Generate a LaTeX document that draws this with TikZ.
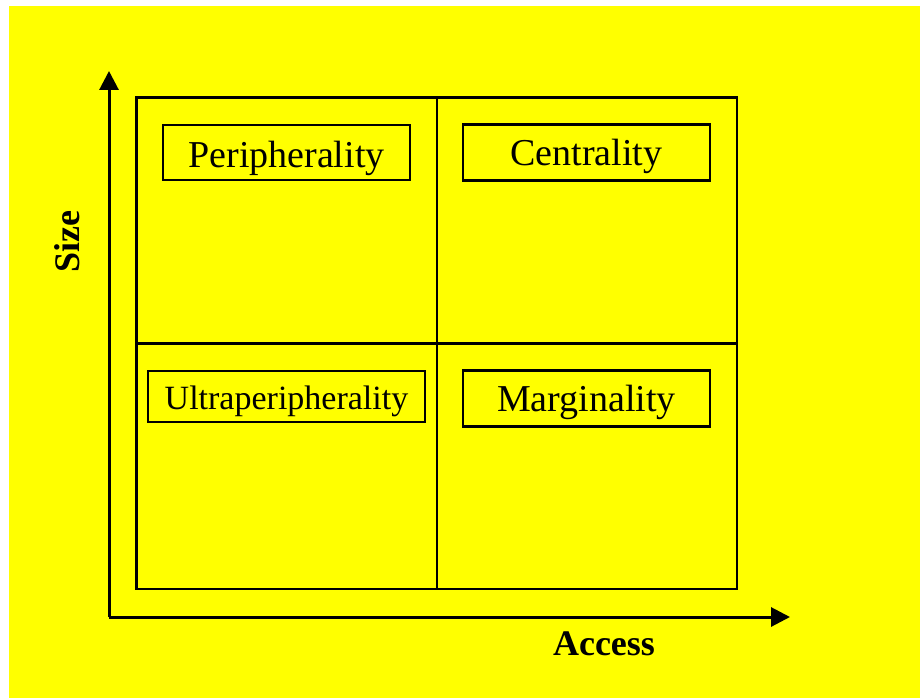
\documentclass[tikz,border=0pt]{standalone}
\usepackage{fontspec}
\setmainfont{Liberation Serif}
\usetikzlibrary{arrows.meta}

\definecolor{bgyellow}{RGB}{255,255,0}

\tikzset{
  quadbox/.style={draw, line width=2.4pt, inner sep=0pt},
  axisline/.style={line width=3pt, -{Triangle[length=19pt, width=19pt]}}
}

\begin{document}
\begin{tikzpicture}[x=1pt, y=-1pt]
\useasboundingbox (0,0) rectangle (920,698);
\fill[bgyellow] (9,6) rectangle (920,698);

\coordinate (o) at (109,617);
\coordinate (ytip) at (109,71);
\coordinate (xtip) at (790,617);
\draw[axisline] (o) -- (ytip);
\draw[axisline] (o) -- (xtip);

\draw[line width=2.2pt] (136.5,97.5) rectangle (737,589);
\draw[line width=2.2pt] (437,97.5) -- (437,589);
\draw[line width=2.2pt] (136.5,343.5) -- (737,343.5);

\node[quadbox, minimum width=247pt, minimum height=55pt] (peri) at (286.5,152.5) {};
\node[quadbox, minimum width=247pt, minimum height=56pt] (cent) at (586.5,152.5) {};
\node[quadbox, minimum width=277pt, minimum height=51pt] (ultra) at (286.5,396.5) {};
\node[quadbox, minimum width=247pt, minimum height=56pt] (marg) at (586.5,398.5) {};

\node[anchor=base, font=\fontsize{38}{40}\selectfont] (peritext) at (286.5,167) {Peripherality};
\node[anchor=base, font=\fontsize{38}{40}\selectfont] (centtext) at (586.5,165.5) {Centrality};
\node[anchor=base, font=\fontsize{34}{36}\selectfont] (ultratext) at (286.5,409) {Ultraperipherality};
\node[anchor=base, font=\fontsize{38}{40}\selectfont] (margtext) at (586.5,411.5) {Marginality};

\node[anchor=base, rotate=90, font=\fontsize{36}{38}\selectfont\bfseries] (size) at (79,241.5) {Size};
\node[anchor=base, font=\fontsize{36}{38}\selectfont\bfseries] (access) at (604,655) {Access};
\end{tikzpicture}
\end{document}
